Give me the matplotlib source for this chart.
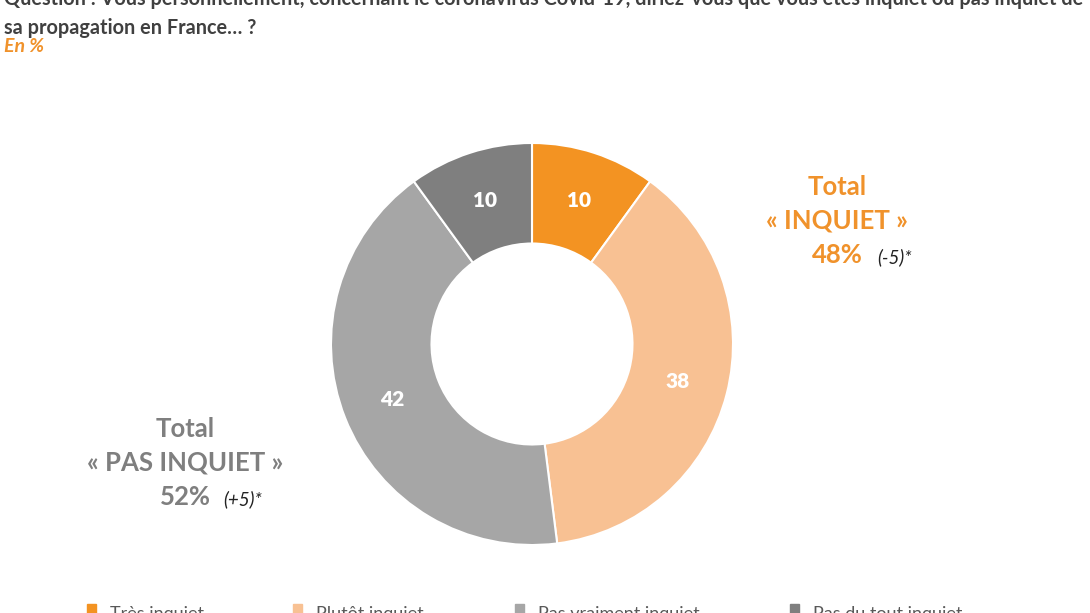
import matplotlib.pyplot as plt
from matplotlib.patches import Rectangle

plt.rcParams['font.family'] = ['Lato', 'DejaVu Sans']

categories = ['Très inquiet', 'Plutôt inquiet', 'Pas vraiment inquiet', 'Pas du tout inquiet']
values = [10, 38, 42, 10]
colors = ['#F39322', '#F8C193', '#A6A6A6', '#7F7F7F']

total_inquiet = 48
evol_inquiet = '(-5)*'
total_pas_inquiet = 52
evol_pas_inquiet = '(+5)*'

W, H = 1090, 613
fig = plt.figure(figsize=(W / 100, H / 100), dpi=100)
ax = fig.add_axes([0, 0, 1, 1])

# donut, centre et rayon en pixels
cx, cy, r = 532, H - 344, 201
wedges, _, autotexts = ax.pie(values, colors=colors, startangle=90, counterclock=False,
                              center=(cx, cy), radius=r, autopct=lambda p: f'{p:.0f}',
                              pctdistance=0.75,
                              wedgeprops=dict(width=r * 0.5, edgecolor='white', linewidth=1.5),
                              textprops=dict(color='white', fontsize=15, fontweight='heavy'))
ax.set_xlim(0, W)
ax.set_ylim(0, H)
ax.set_aspect('equal')
ax.axis('off')

# titre (coupé en haut, comme sur l'original)
grey_txt = '#404040'
ax.text(4, H + 1, "Question : Vous personnellement, concernant le coronavirus Covid-19, diriez-vous que vous êtes inquiet ou pas inquiet de",
        fontsize=14.3, fontweight='bold', color=grey_txt, va='center', ha='left')
ax.text(4, H - 28, "sa propagation en France… ?", fontsize=14.3, fontweight='bold',
        color=grey_txt, va='center', ha='left')
ax.text(4, H - 47, "En %", fontsize=14, fontweight='bold', fontstyle='italic',
        color='#F0922B', va='center', ha='left')

# totaux
orange = '#F0922B'
ax.text(837, H - 187, "Total", fontsize=18.5, fontweight='bold', color=orange, ha='center', va='center')
ax.text(837, H - 221, "« INQUIET »", fontsize=18.5, fontweight='bold', color=orange, ha='center', va='center')
ax.text(837, H - 255, f"{total_inquiet}%", fontsize=18.5, fontweight='bold', color=orange, ha='center', va='center')
ax.text(877, H - 257, evol_inquiet, fontsize=13.5, fontstyle='italic', color='#222222', ha='left', va='center')

grey = '#7F7F7F'
ax.text(185, H - 429, "Total", fontsize=18.5, fontweight='bold', color=grey, ha='center', va='center')
ax.text(185, H - 463, "« PAS INQUIET »", fontsize=18.5, fontweight='bold', color=grey, ha='center', va='center')
ax.text(185, H - 497, f"{total_pas_inquiet}%", fontsize=18.5, fontweight='bold', color=grey, ha='center', va='center')
ax.text(223, H - 499, evol_pas_inquiet, fontsize=13.5, fontstyle='italic', color='#222222', ha='left', va='center')

# légende (coupée en bas)
leg_x = [87, 293, 515, 790]
for x, lab, col in zip(leg_x, categories, colors):
    ax.add_patch(Rectangle((x, H - 613), 9, 9, color=col, clip_on=False))
    ax.text(x + 23, H - 614, lab, fontsize=13, color='#595959', ha='left', va='center')

fig.savefig('out.png', dpi=100)
